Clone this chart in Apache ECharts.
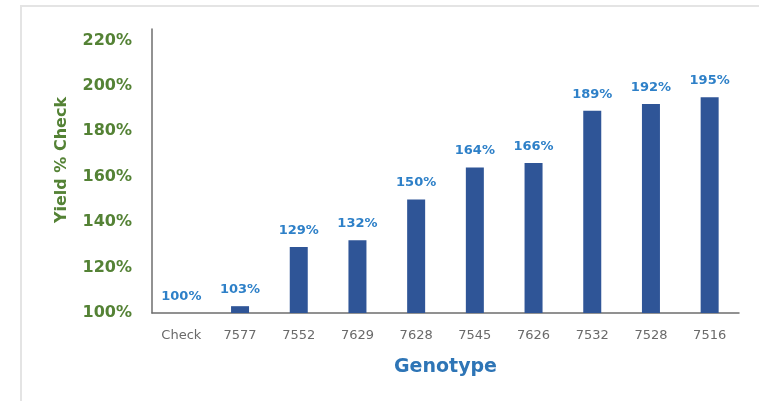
<!DOCTYPE html>
<html>
<head>
<meta charset="utf-8">
<script src="https://cdn.jsdelivr.net/npm/echarts@6/dist/echarts.min.js"></script>
<style>
  * { margin: 0; padding: 0; }
  body { background: #fff; }
</style>
</head>
<body>
<div id="chart" style="width: 759px;height: 401px;"></div>
<script>
var genotypes = ['Check', '7577', '7552', '7629', '7628', '7545', '7626', '7532', '7528', '7516'];
var yieldPct = [100, 103, 129, 132, 150, 164, 166, 189, 192, 195];

var chart = echarts.init(document.getElementById('chart'));
chart.setOption({
  animation: false,
  backgroundColor: '#fff',
  grid: { left: 152, right: 20, top: 29, bottom: 88 },
  graphic: [
    {
      type: 'rect',
      shape: { x: 21, y: 6, width: 740, height: 420 },
      style: { fill: 'none', stroke: '#e4e4e4', lineWidth: 2 },
      z: -1
    },
    {
      type: 'text',
      x: 62, y: 160,
      rotation: Math.PI / 2,
      style: {
        text: 'Yield % Check',
        fill: '#548235',
        font: 'bold 16px "DejaVu Sans"',
        align: 'center',
        verticalAlign: 'middle'
      }
    }
  ],
  xAxis: {
    type: 'category',
    data: genotypes,
    name: 'Genotype',
    nameLocation: 'middle',
    nameGap: 45,
    nameTextStyle: { color: '#2E75B6', fontFamily: 'DejaVu Sans', fontWeight: 'bold', fontSize: 19 },
    axisLine: { lineStyle: { color: '#6e6e6e', width: 1.5 } },
    axisTick: { show: false },
    axisLabel: { color: '#6a6a6a', fontFamily: 'DejaVu Sans', fontSize: 13, margin: 16 }
  },
  yAxis: {
    type: 'value',
    min: 100,
    max: 225,
    interval: 20,
    splitLine: { show: false },
    axisLine: { show: true, lineStyle: { color: '#6e6e6e', width: 1.5 } },
    axisTick: { show: false },
    axisLabel: {
      formatter: '{value}%',
      showMaxLabel: false,
      color: '#548235',
      fontFamily: 'DejaVu Sans',
      fontWeight: 'bold',
      fontSize: 16,
      margin: 20
    }
  },
  series: [
    {
      type: 'bar',
      data: yieldPct,
      barWidth: 18,
      itemStyle: { color: '#2F5597' },
      label: {
        show: true,
        position: 'top',
        distance: 10,
        formatter: '{c}%',
        color: '#2E80C8',
        fontFamily: 'DejaVu Sans',
        fontWeight: 'bold',
        fontSize: 13
      }
    }
  ]
});
</script>
</body>
</html>
